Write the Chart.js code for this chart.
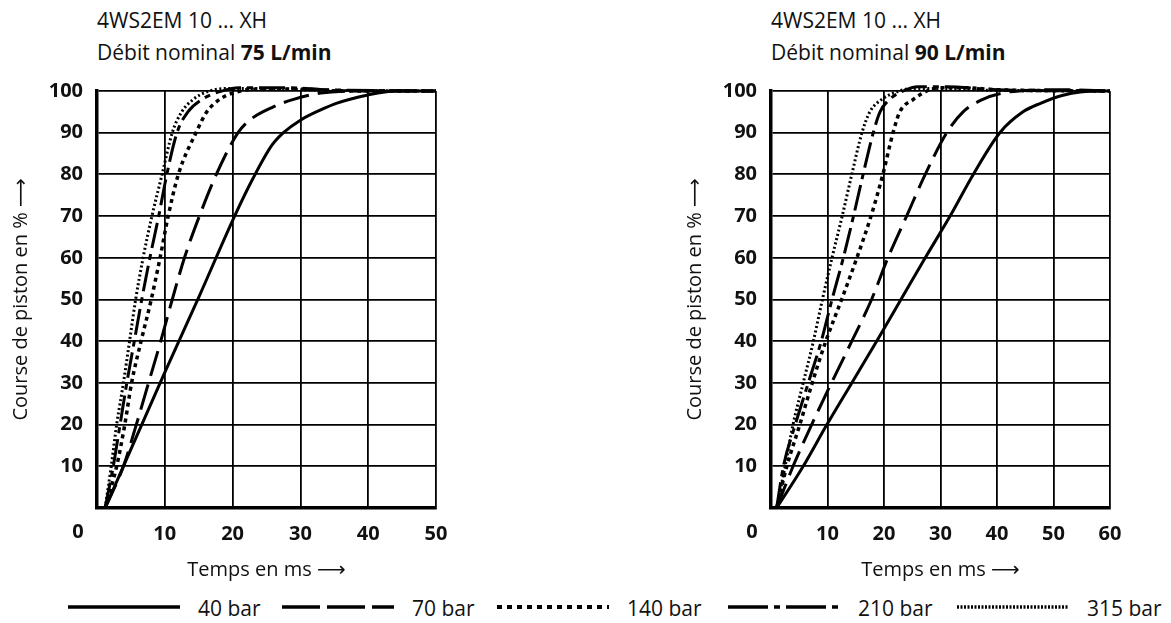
<!DOCTYPE html>
<html>
<head>
<meta charset="utf-8">
<script src="https://cdn.jsdelivr.net/npm/chart.js@4.4.1/dist/chart.umd.min.js"></script>
<style>
  body { margin: 0; background: #fff; font-family: 'Open Sans', 'DejaVu Sans', sans-serif; color: #111; }
  #wrap { position: relative; width: 1171px; height: 623px; overflow: hidden; }
  canvas.chart { position: absolute; top: 0; }
  .title { position: absolute; top: 4px; font-size: 21px; line-height: 32px; }
  .lg { position: absolute; top: 595px; height: 26px; display: flex; align-items: center; font-size: 21px; }
  .lg canvas { margin-right: 18px; }
</style>
</head>
<body>
<div id="wrap">
  <div class="title" style="left:97px">4WS2EM 10 ... XH<br>Débit nominal <b>75 L/min</b></div>
  <div class="title" style="left:771px">4WS2EM 10 ... XH<br>Débit nominal <b>90 L/min</b></div>
  <canvas class="chart" id="c75" width="470" height="590" style="left:0"></canvas>
  <canvas class="chart" id="c90" width="470" height="590" style="left:674px"></canvas>
  <div id="legend"></div>
</div>
<script>
// series names and tick values
const seriesLabels = ['40 bar', '70 bar', '140 bar', '210 bar', '315 bar'];
const xTicks75 = [0, 10, 20, 30, 40, 50];
const xTicks90 = [0, 10, 20, 30, 40, 50, 60];
const yTicks = [0, 10, 20, 30, 40, 50, 60, 70, 80, 90, 100];

// 75 L/min : [temps ms, course %]
const bar40_75 = [[1.2,0],[10,32.5],[15,50.5],[20.3,70],[23,79],[25.8,87],[27.5,90],[30,93],[32.9,95.4],[35.4,97.1],[39.8,99],[44,100],[50,100]];
const bar70_75 = [[1.2,0],[3.9,10],[5.8,20],[7.6,30],[9.4,40],[11.1,50],[12.9,60],[15.1,70],[17.6,80],[20.8,90],[22.5,93],[26,96.2],[29,98],[33,99.5],[38,100],[50,100]];
const bar140_75 = [[1.2,0],[2.9,10],[4.1,20],[5.1,30],[6.5,40],[8,50],[9.3,60],[10.5,70],[12,80],[14.6,90],[16.2,95],[18.1,98],[20,99.5],[24,100.5],[30,100.5],[36,100],[50,100]];
const bar210_75 = [[1.2,0],[2.4,10],[3.4,20],[4.4,30],[5.5,40],[6.6,50],[7.8,60],[9.1,70],[10.3,80],[11.8,90],[13.4,95],[15.5,98],[18,99.8],[21,100.8],[28,100.8],[34,100.3],[50,100]];
const bar315_75 = [[1.2,0],[2.1,10],[2.9,20],[3.9,30],[4.8,40],[5.7,50],[6.8,60],[8.1,70],[9.6,80],[11.1,90],[12.5,95],[14.2,98],[16.2,99.8],[19,100.6],[25,100.6],[32,100.2],[50,100]];

// 90 L/min
const bar40_90 = [[1,0],[5.7,10],[9.9,20],[14.3,30],[18.7,40],[23,50],[27.3,60],[31.7,70],[35.8,80],[40.5,90],[44.6,95],[47.6,97],[51.7,99],[57.7,100],[60,100]];
const bar70_90 = [[1,0],[3.9,10],[7.2,20],[10.7,30],[14.3,40],[17.8,50],[20.7,60],[24,70],[27.3,80],[31.1,90],[34,95],[37.5,98],[41,99.5],[46,100.2],[52,100.3],[60,100]];
const bar140_90 = [[1,0],[2.8,10],[5.1,20],[7.3,30],[9.7,40],[12.5,50],[15.2,60],[17.7,70],[19.8,80],[21.6,90],[22.8,95],[25.2,98],[27.6,100],[30,100.8],[34,100.8],[40,100.3],[60,100]];
const bar210_90 = [[1,0],[2.2,10],[4.3,20],[6.6,30],[8.9,40],[10.8,50],[12.8,60],[14.6,70],[16.3,80],[18.1,90],[19.3,95],[21,98],[23.4,100],[26,101],[31,101],[40,100.3],[60,100]];
const bar315_90 = [[1,0],[2.5,10],[3.9,20],[5.7,30],[7.5,40],[9.1,50],[10.8,60],[12.6,70],[14.3,80],[16.1,90],[17.5,95],[19.6,98],[22.3,99.8],[25,100.6],[30,100.6],[38,100.2],[60,100]];

// line styles
const lineWidths = [3, 3, 3.5, 3, 3];
const dashes = [[], [26, 9], [4, 4], [26, 6, 6, 6], [2, 2.5]];
const legendDashes = [[], [38, 7], [5, 5], [40, 6, 6, 6], [2, 1.5]];

const FONT = "'Open Sans', 'DejaVu Sans', sans-serif";

// corner "0" label sits left of the axis origin like in the original
const cornerZero = {
  id: 'cornerZero',
  afterDraw(chart) {
    const { ctx, chartArea } = chart;
    ctx.save();
    ctx.font = "bold 20px " + FONT;
    ctx.fillStyle = '#111';
    ctx.textAlign = 'center';
    ctx.textBaseline = 'middle';
    ctx.fillText('0', chartArea.left - 19, chartArea.bottom + 24);
    ctx.restore();
  }
};

function makeChart(id, series, xTicks) {
  return new Chart(document.getElementById(id), {
    type: 'line',
    data: {
      datasets: series.map((pts, i) => ({
        label: seriesLabels[i],
        data: pts.map(p => ({ x: p[0], y: p[1] })),
        borderColor: '#000',
        borderWidth: lineWidths[i],
        borderDash: dashes[i],
        borderCapStyle: 'butt',
        pointRadius: 0,
        cubicInterpolationMode: 'monotone',
        fill: false,
        clip: 8
      }))
    },
    options: {
      responsive: false,
      animation: false,
      layout: { padding: { top: 91, right: 34, bottom: 8, left: 0 } },
      plugins: { legend: { display: false }, tooltip: { enabled: false } },
      scales: {
        x: {
          type: 'linear',
          min: xTicks[0],
          max: xTicks[xTicks.length - 1],
          afterBuildTicks: s => { s.ticks = xTicks.map(v => ({ value: v })); },
          afterFit: s => { s.height = 74; },
          grid: { color: '#000', lineWidth: 1.8, drawTicks: false },
          border: { color: '#000', width: 3.5 },
          ticks: {
            color: '#111', padding: 14, maxRotation: 0,
            font: { family: FONT, size: 20, weight: 'bold' },
            callback: v => v === 0 ? '' : v
          },
          title: {
            display: true, text: 'Temps en ms ⟶', color: '#111',
            font: { family: FONT, size: 20 }, padding: { top: 2, bottom: 0 }
          }
        },
        y: {
          min: 0,
          max: 100,
          afterBuildTicks: s => { s.ticks = yTicks.map(v => ({ value: v })); },
          afterFit: s => { s.width = 97; },
          grid: { color: '#000', lineWidth: 1.8, drawTicks: false },
          border: { color: '#000', width: 3.5 },
          ticks: {
            color: '#111', padding: 14,
            font: { family: FONT, size: 20, weight: 'bold' },
            callback: v => v === 0 ? '' : v
          },
          title: {
            display: true, text: 'Course de piston en % ⟶', color: '#111',
            font: { family: FONT, size: 20 }, padding: { top: 9, bottom: 0 }
          }
        }
      }
    },
    plugins: [cornerZero]
  });
}

makeChart('c75', [bar40_75, bar70_75, bar140_75, bar210_75, bar315_75], xTicks75);
makeChart('c90', [bar40_90, bar70_90, bar140_90, bar210_90, bar315_90], xTicks90);

// shared legend under both charts
const legendX = [68, 282, 497, 728, 957];
const legend = document.getElementById('legend');
seriesLabels.forEach((name, i) => {
  const item = document.createElement('div');
  item.className = 'lg';
  item.style.left = legendX[i] + 'px';
  const cv = document.createElement('canvas');
  cv.width = 112; cv.height = 12;
  const g = cv.getContext('2d');
  g.strokeStyle = '#000';
  g.lineWidth = lineWidths[i] + 0.5;
  g.setLineDash(legendDashes[i]);
  g.beginPath(); g.moveTo(0, 5); g.lineTo(112, 5); g.stroke();
  item.appendChild(cv);
  item.appendChild(document.createTextNode(name));
  legend.appendChild(item);
});
</script>
</body>
</html>
